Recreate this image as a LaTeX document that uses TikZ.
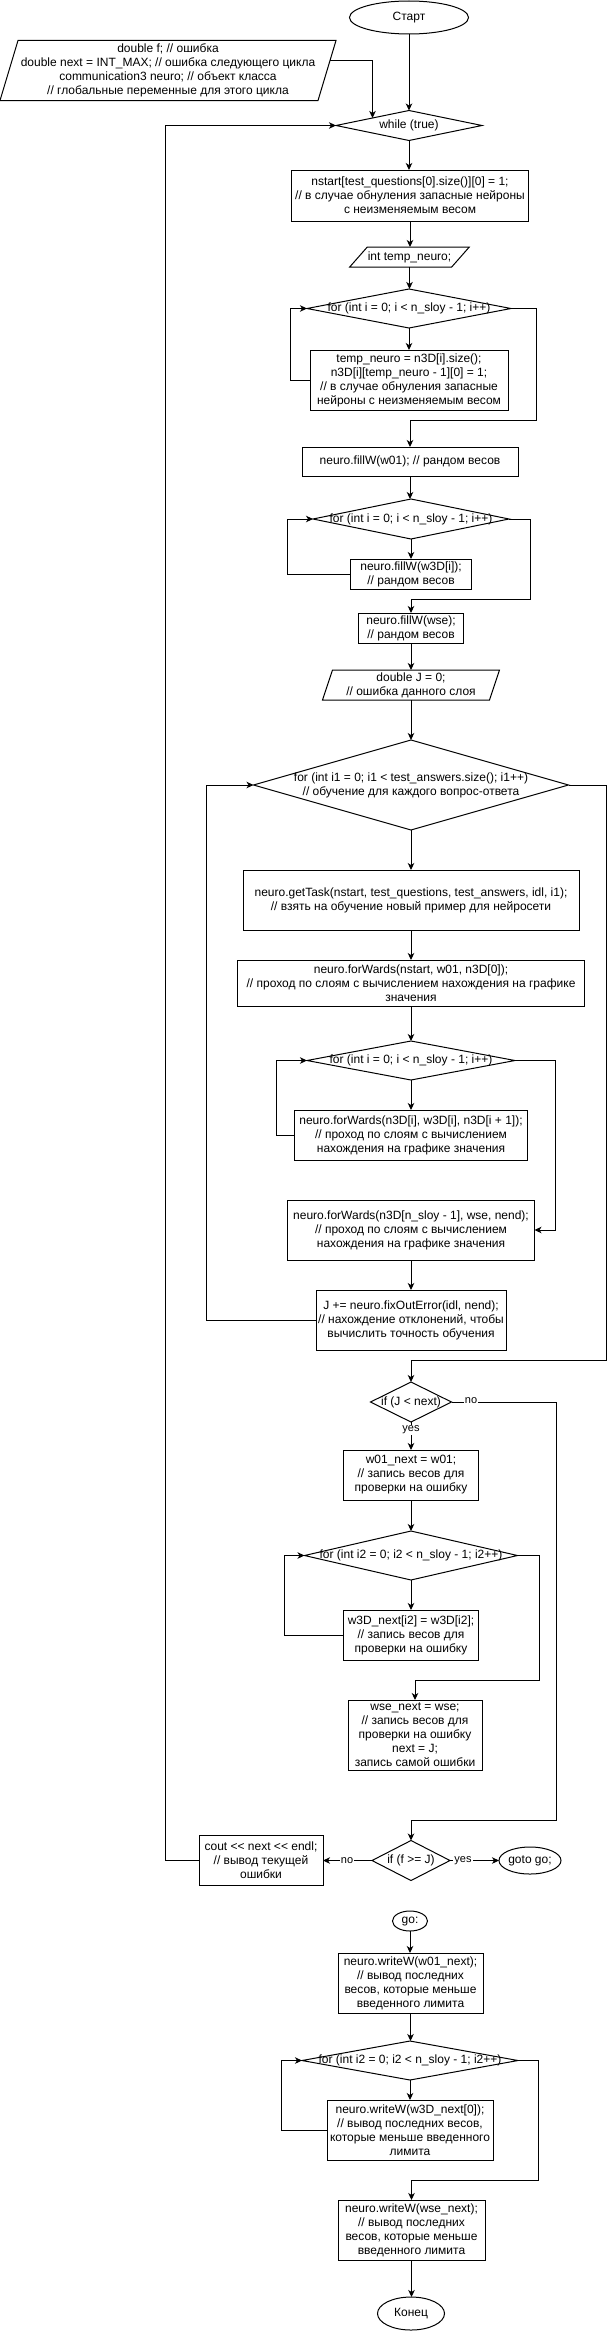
\documentclass[tikz,border=0pt]{standalone}
\usepackage{fontspec}
\setmainfont{Liberation Sans}[Ligatures=TeXOff]
\usetikzlibrary{shapes.geometric,arrows.meta}
\newcommand\paraframe[2]{\draw ([xshift=#2]#1.north west) -- ([xshift=#2]#1.north east) -- ([xshift=-#2]#1.south east) -- ([xshift=-#2]#1.south west) -- cycle;}
\begin{document}
\begin{tikzpicture}[x=1pt,y=-1pt,line width=1pt,
  every node/.style={font=\fontsize{12}{14}\selectfont},
  box/.style={draw, fill=white, align=center, inner sep=0pt, outer sep=0pt},
  dia/.style={draw, diamond, inner sep=0pt, outer sep=0pt},
  ell/.style={draw, ellipse, inner sep=0pt, outer sep=0pt, align=center},
  txt/.style={align=center, inner sep=0pt, outer sep=0pt},
  lab/.style={fill=white, inner sep=1pt, font=\fontsize{11}{13}\selectfont},
  arr/.style={-{Stealth[length=7pt,width=6.5pt,inset=2pt]}}]
\path[use as bounding box] (0,0) rectangle (614,2331);

% nodes
\node[ell, minimum width=119pt, minimum height=33pt] (start) at (409,17.5) {Старт};
\node[txt, minimum width=318pt, minimum height=60pt] (glob) at (168,70.5) {double f; // ошибка\\double next = INT\_MAX; // ошибка следующего цикла\\communication3 neuro; // объект класса\\// глобальные переменные для этого цикла};
\paraframe{glob}{9pt}
\coordinate (globout) at (330,60.7);
\node[dia, minimum width=146pt, minimum height=30pt] (w) at (409,125.5) {};
\node[txt] (wt) at (w) {while (true)};
\node[box, minimum width=237pt, minimum height=51pt] (ns) at (410,195.5) {nstart[test\_questions[0].size()][0] = 1;\\// в случае обнуления запасные нейроны\\с неизменяемым весом};
\node[txt, minimum width=102pt, minimum height=20pt] (tn) at (409.5,257) {int temp\_neuro;};
\paraframe{tn}{8.8pt}
\node[dia, minimum width=204pt, minimum height=39pt] (f1) at (409,308.5) {};
\node[txt] (f1t) at (f1) {for (int i = 0; i < n\_sloy - 1; i++)};
\node[box, minimum width=198pt, minimum height=60pt] (b1) at (409,380) {temp\_neuro = n3D[i].size();\\n3D[i][temp\_neuro - 1][0] = 1;\\// в случае обнуления запасные\\нейроны с неизменяемым весом};
\node[box, minimum width=216pt, minimum height=29pt] (fw01) at (410,461.5) {neuro.fillW(w01); // рандом весов};
\node[dia, minimum width=196pt, minimum height=40pt] (f2) at (411,519) {};
\node[txt] (f2t) at (f2) {for (int i = 0; i < n\_sloy - 1; i++)};
\node[box, minimum width=121pt, minimum height=30pt] (b2) at (411,574) {neuro.fillW(w3D[i]);\\// рандом весов};
\node[box, minimum width=105pt, minimum height=30pt] (fwse) at (411,628) {neuro.fillW(wse);\\// рандом весов};
\node[txt, minimum width=167pt, minimum height=30pt] (dJ) at (411,685) {double J = 0;\\// ошибка данного слоя};
\paraframe{dJ}{5pt}
\node[dia, minimum width=315pt, minimum height=90pt] (bf) at (411,785) {};
\node[txt] (bft) at (bf) {for (int i1 = 0; i1 < test\_answers.size(); i1++)\\// обучение для каждого вопрос-ответа};
\node[box, minimum width=336pt, minimum height=60pt] (gt) at (411,900) {neuro.getTask(nstart, test\_questions, test\_answers, idl, i1);\\// взять на обучение новый пример для нейросети};
\node[box, minimum width=347pt, minimum height=46pt] (fw1) at (411,983) {neuro.forWards(nstart, w01, n3D[0]);\\// проход по слоям с вычислением нахождения на графике\\значения};
\node[dia, minimum width=208pt, minimum height=39pt] (f3) at (411,1060.5) {};
\node[txt] (f3t) at (f3) {for (int i = 0; i < n\_sloy - 1; i++)};
\node[box, minimum width=233pt, minimum height=50pt] (b3) at (411,1135) {neuro.forWards(n3D[i], w3D[i], n3D[i + 1]);\\// проход по слоям с вычислением\\нахождения на графике значения};
\node[box, minimum width=247pt, minimum height=60pt] (fwl) at (411,1230) {neuro.forWards(n3D[n\_sloy - 1], wse, nend);\\// проход по слоям с вычислением\\нахождения на графике значения};
\node[box, minimum width=190pt, minimum height=60pt] (jb) at (411,1320) {J += neuro.fixOutError(idl, nend);\\// нахождение отклонений, чтобы\\вычислить точность обучения};
\node[dia, minimum width=81pt, minimum height=40pt] (ifj) at (411,1402) {};
\node[txt] (ifjt) at (ifj) {if (J < next)};
\node[box, minimum width=135pt, minimum height=50pt] (w01n) at (411,1475) {w01\_next = w01;\\// запись весов для\\проверки на ошибку};
\node[dia, minimum width=213pt, minimum height=49pt] (f4) at (411,1555.5) {};
\node[txt] (f4t) at (f4) {for (int i2 = 0; i2 < n\_sloy - 1; i2++)};
\node[box, minimum width=135pt, minimum height=50pt] (b4) at (411,1635) {w3D\_next[i2] = w3D[i2];\\// запись весов для\\проверки на ошибку};
\node[box, minimum width=134pt, minimum height=70pt] (wsen) at (415,1735) {wse\_next = wse;\\// запись весов для\\проверки на ошибку\\next = J;\\запись самой ошибки};
\node[dia, minimum width=78pt, minimum height=40pt] (iff) at (411,1860.5) {};
\node[txt] (ifft) at (iff) {if (f >= J)};
\node[ell, minimum width=62pt, minimum height=27pt] (gto) at (530,1860.5) {goto go;};
\node[box, minimum width=124pt, minimum height=50pt] (cout) at (261,1860.5) {cout << next << endl;\\// вывод текущей\\ошибки};
\node[ell, minimum width=35pt, minimum height=20pt] (go) at (410,1921) {go:};
\node[box, minimum width=145pt, minimum height=60pt] (wr1) at (410.5,1983) {neuro.writeW(w01\_next);\\// вывод последних\\весов, которые меньше\\введенного лимита};
\node[dia, minimum width=216pt, minimum height=39pt] (f5) at (410,2060.5) {};
\node[txt] (f5t) at (f5) {for (int i2 = 0; i2 < n\_sloy - 1; i2++)};
\node[box, minimum width=166pt, minimum height=60pt] (b5) at (410,2130) {neuro.writeW(w3D\_next[0]);\\// вывод последних весов,\\которые меньше введенного\\лимита};
\node[box, minimum width=147pt, minimum height=60pt] (wr2) at (411.5,2230) {neuro.writeW(wse\_next);\\// вывод последних\\весов, которые меньше\\введенного лимита};
\node[ell, minimum width=67pt, minimum height=33pt] (end) at (411,2313.5) {Конец};

% connectors
\draw[arr] (start.south) -- (start.south |- w.north);
\draw[arr] (globout) -| (w.north west);
\draw[arr] (w.south) -- (w.south |- ns.north);
\draw[arr] (ns.south) -- (ns.south |- tn.north);
\draw[arr] (tn.south) -- (tn.south |- f1.north);
\draw[arr] (f1.south) -- (f1.south |- b1.north);
\draw[arr] (b1.west) -| ([xshift=-17pt]f1.west) -- (f1.west);
\coordinate (c1) at (536,420);
\draw[arr] (f1.east) -| (c1) -| (fw01.north);
\draw[arr] (fw01.south) -- (fw01.south |- f2.north);
\draw[arr] (f2.south) -- (f2.south |- b2.north);
\draw[arr] (b2.west) -| ([xshift=-25.5pt]f2.west) -- (f2.west);
\coordinate (c2) at (530,599);
\draw[arr] (f2.east) -| (c2) -| (fwse.north);
\draw[arr] (fwse.south) -- (fwse.south |- dJ.north);
\draw[arr] (dJ.south) -- (dJ.south |- bf.north);
\draw[arr] (bf.south) -- (bf.south |- gt.north);
\draw[arr] (gt.south) -- (gt.south |- fw1.north);
\draw[arr] (fw1.south) -- (fw1.south |- f3.north);
\draw[arr] (f3.south) -- (f3.south |- b3.north);
\draw[arr] (b3.west) -| ([xshift=-31pt]f3.west) -- (f3.west);
\draw[arr] (f3.east) -| ([xshift=20.5pt]fwl.east) -- (fwl.east);
\draw[arr] (fwl.south) -- (fwl.south |- jb.north);
\draw[arr] (jb.west) -| ([xshift=-47.5pt]bf.west) -- (bf.west);
\coordinate (c3) at (606,1360);
\draw[arr] (bf.east) -| (c3) -| (ifj.north);
\draw[arr] (ifj.south) -- (ifj.south |- w01n.north);
\node[lab] (yes1) at (411,1430) {yes};
\coordinate (c4) at (556,1820);
\draw[arr] (ifj.east) -| (c4) -| (iff.north);
\node[lab] (no1) at (471,1401) {no};
\draw[arr] (w01n.south) -- (w01n.south |- f4.north);
\draw[arr] (f4.south) -- (f4.south |- b4.north);
\draw[arr] (b4.west) -| ([xshift=-20.5pt]f4.west) -- (f4.west);
\coordinate (c5) at (539,1680.7);
\draw[arr] (f4.east) -| (c5) -| (wsen.north);
\draw[arr] (iff.east) -- (gto.west);
\node[lab] (yes2) at (463,1860.5) {yes};
\draw[arr] (iff.west) -- (cout.east);
\node[lab] (no2) at (347,1860.5) {no};
\draw[arr] (cout.west) -| ([xshift=-170.5pt]w.west) -- (w.west);
\draw[arr] (go.south) -- (go.south |- wr1.north);
\draw[arr] (wr1.south) -- (wr1.south |- f5.north);
\draw[arr] (f5.south) -- (f5.south |- b5.north);
\draw[arr] (b5.west) -| ([xshift=-20.4pt]f5.west) -- (f5.west);
\coordinate (c6) at (538,2180);
\draw[arr] (f5.east) -| (c6) -| (wr2.north);
\draw[arr] (wr2.south) -- (wr2.south |- end.north);
\end{tikzpicture}
\end{document}
